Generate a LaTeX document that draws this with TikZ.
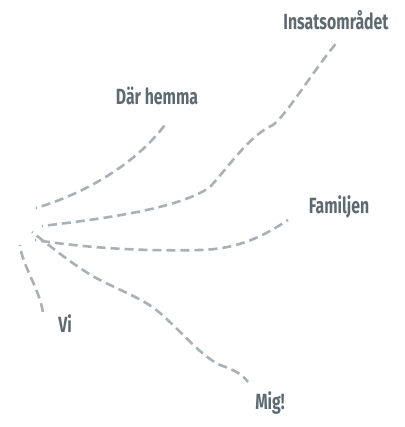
\documentclass[tikz,border=0pt]{standalone}
\usepackage{fontspec}
\newfontfamily\labelfont{Fira Sans}[FakeStretch=0.72]
\usepackage{tikz}
\definecolor{inkgrey}{HTML}{5E6A71}
\definecolor{trailgrey}{HTML}{AAB1B6}

\begin{document}
\begin{tikzpicture}[x=1pt, y=-1pt,
  every node/.style = {text=inkgrey, inner sep=0pt,
    font=\labelfont\bfseries\fontsize{22}{22}\selectfont},
  trail/.style = {draw=trailgrey, line width=2.6pt,
    dash pattern=on 9pt off 5pt, dash phase=8pt}]
  \useasboundingbox (0,0) rectangle (404,427);

  \node (ins) at (336,20) {Insatsområdet};
  \node (dar) at (157,96) {Där hemma};
  \node (fam) at (339,207) {Familjen};
  \node (vi)  at (65,324) {Vi};
  \node (mig) at (270,403) {Mig!};

  % start and end of each trail
  \coordinate (dar0) at (36,208);  \coordinate (dar1) at (167,122);
  \coordinate (ins0) at (42,226);  \coordinate (ins1) at (338,41);
  \coordinate (fam0) at (35,240);  \coordinate (fam1) at (288,220);
  \coordinate (mig0) at (32,232);  \coordinate (mig1) at (248,382);
  \coordinate (vi0)  at (20,245);  \coordinate (vi1)  at (43,313);

  \draw[trail] (dar0) .. controls (90,192) and (140,160) .. (dar1);
  \draw[trail] (ins0) .. controls (110,218) and (180,208) .. (210,187)
    .. controls (230,165) and (250,135) .. (273,125)
    .. controls (288,113) and (310,75) .. (ins1);
  \draw[trail] (fam0) .. controls (100,250) and (160,251) .. (200,250)
    .. controls (240,249) and (265,235) .. (fam1);
  \draw[trail] (mig0) .. controls (55,250) and (80,270) .. (100,280)
    .. controls (130,295) and (145,300) .. (160,313)
    .. controls (185,335) and (200,355) .. (220,365)
    .. controls (235,370) and (243,375) .. (mig1);
  \draw[trail] (vi0) .. controls (22,265) and (40,290) .. (vi1);
\end{tikzpicture}
\end{document}
